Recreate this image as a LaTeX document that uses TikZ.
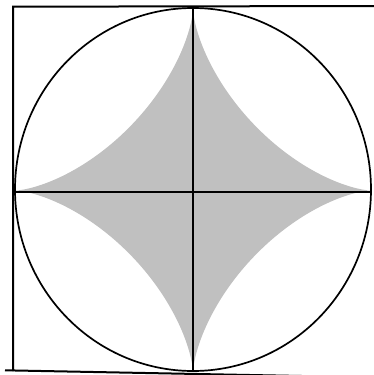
\documentclass[tikz,border=0pt]{standalone}
\begin{document}
\begin{tikzpicture}[x=1pt,y=-1pt,
  frame/.style={line width=2pt,black},
  rim/.style={line width=1.7pt,black},
  axis/.style={line width=1.9pt,black},
  shade/.style={fill={rgb,255:red,192;green,192;blue,192}}]
\useasboundingbox (0,0) rectangle (374,375);
\fill[white] (0,0) rectangle (374,375);
% astroid
\fill[shade] plot[domain=0:360,samples=721]
  ({193+177.5*cos(\x)*cos(\x)*cos(\x)},{190.5+181.5*sin(\x)*sin(\x)*sin(\x)}) -- cycle;
% circle
\draw[rim] (193,189.5) ellipse [x radius=178, y radius=181.5];
% cross
\coordinate (L) at (15.5,191.7);
\coordinate (R) at (371,191.7);
\coordinate (T) at (193.3,8);
\coordinate (B) at (193.3,370);
\draw[axis] (L) -- (R);
\draw[axis] (T) -- (B);
% frame
\coordinate (tl) at (13.2,6.7);
\coordinate (tr) at (380,6);
\coordinate (bl) at (13.2,371);
\coordinate (b0) at (5,370.3);
\coordinate (b1) at (380,377.5);
\draw[frame] (tr) -- (tl) -- (bl);
\draw[frame] (b0) -- (b1);
\end{tikzpicture}
\end{document}
